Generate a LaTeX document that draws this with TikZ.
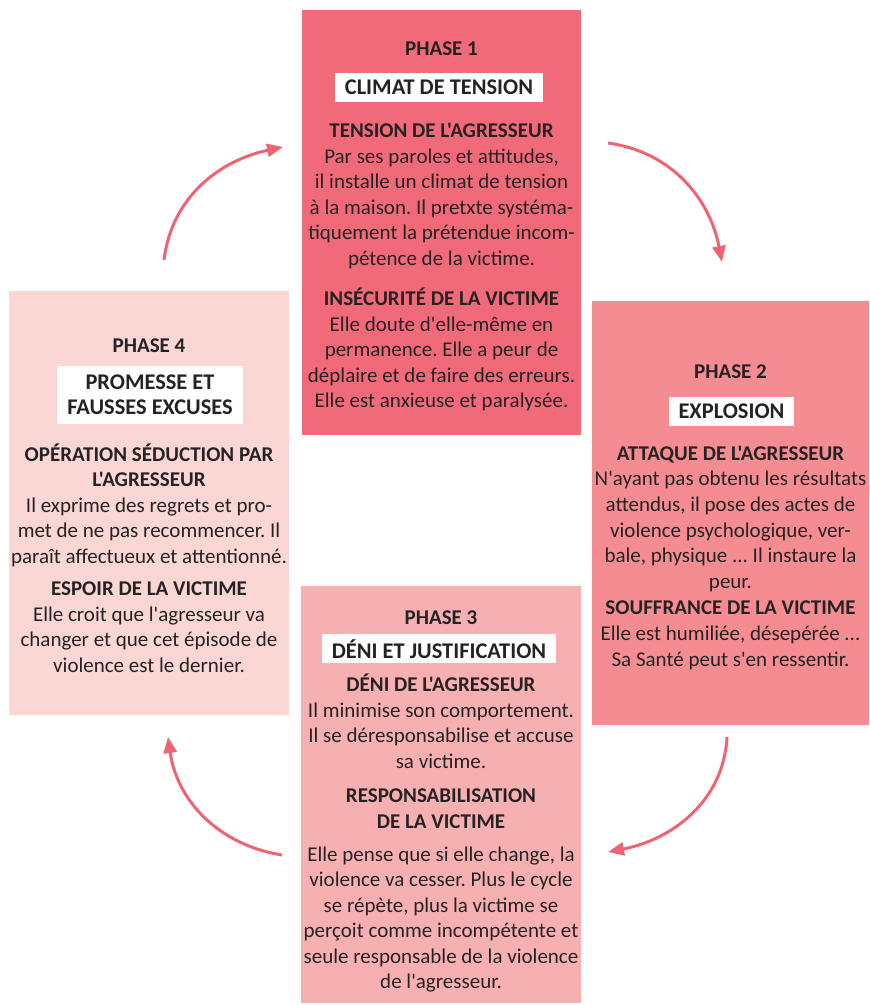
\documentclass[tikz,border=0pt]{standalone}
\usepackage{fontspec}
\setmainfont{Carlito}[Ligatures=TeXOff]
\usetikzlibrary{arrows.meta}
\frenchspacing

\definecolor{phaseone}{HTML}{F06A79}
\definecolor{phasetwo}{HTML}{F48C92}
\definecolor{phasethree}{HTML}{F7B0B1}
\definecolor{phasefour}{HTML}{FAD6D4}
\definecolor{arccolor}{HTML}{EE6473}
\definecolor{inktext}{HTML}{262223}

\newcommand{\bodyfont}{\fontsize{21}{25.5}\selectfont}
\newcommand{\widefont}{\fontsize{21}{25.7}\selectfont}
\newcommand{\labelfont}{\fontsize{22.4}{25}\selectfont\bfseries}

\begin{document}
\begin{tikzpicture}[x=1pt,y=1pt,
  phasebox/.style={inner sep=0pt},
  phasetitle/.style={font=\bodyfont\bfseries, text=inktext, anchor=north, inner sep=0pt, execute at begin node=\strut},
  phaselabel/.style={fill=white, font=\labelfont, text=inktext, inner xsep=10pt, inner ysep=0pt, minimum height=29pt, align=center},
  textblock/.style={font=\bodyfont, text=inktext, anchor=north, inner sep=0pt, align=center},
  cyclearc/.style={line width=3pt, draw=arccolor, -{Triangle[length=16pt,width=13pt]}}
]
\useasboundingbox (0,0) rectangle (870,1005);

% Phase 1
\node[phasebox, fill=phaseone, minimum width=279pt, minimum height=425pt] (p1) at (441.5,782.5) {};
\node[phasetitle] (p1title) at (441.5,967.5) {PHASE 1};
\node[phaselabel] (p1label) at (439,917.5) {CLIMAT DE TENSION};
\node[textblock] (p1agr) at (441.5,885.5) {\strut\textbf{TENSION DE L'AGRESSEUR}\\
  Par ses paroles et attitudes,\\ il installe un climat de tension\\
  à la maison. Il pretxte systéma-\\ tiquement la prétendue incom-\\
  pétence de la victime.};
\node[textblock] (p1vic) at (441.5,717.5) {\strut\textbf{INSÉCURITÉ DE LA VICTIME}\\
  Elle doute d'elle-même en\\ permanence. Elle a peur de\\
  déplaire et de faire des erreurs.\\ Elle est anxieuse et paralysée.};

% Phase 2
\node[phasebox, fill=phasetwo, minimum width=277pt, minimum height=424pt] (p2) at (730.5,492) {};
\node[phasetitle] (p2title) at (730.5,644.8) {PHASE 2};
\node[phaselabel] (p2label) at (731.5,593.5) {EXPLOSION};
\node[textblock, font=\widefont] (p2agr) at (730.5,563) {\strut\textbf{ATTAQUE DE L'AGRESSEUR}\\
  N'ayant pas obtenu les résultats\\ attendus, il pose des actes de\\
  violence psychologique, ver-\\ bale, physique ... Il instaure la\\ peur.};
\node[textblock, font=\widefont] (p2vic) at (730.5,408.5) {\strut\textbf{SOUFFRANCE DE LA VICTIME}\\
  Elle est humiliée, désepérée ...\\ Sa Santé peut s'en ressentir.};

% Phase 3
\node[phasebox, fill=phasethree, minimum width=280pt, minimum height=417pt] (p3) at (441,210.5) {};
\node[phasetitle] (p3title) at (441,398.5) {PHASE 3};
\node[phaselabel] (p3label) at (439,356) {DÉNI ET JUSTIFICATION};
\node[textblock] (p3agr) at (441,331.5) {\strut\textbf{DÉNI DE L'AGRESSEUR}\\
  Il minimise son comportement.\\ Il se déresponsabilise et accuse\\ sa victime.};
\node[textblock, font=\bodyfont\bfseries] (p3head) at (441,220.5) {\strut RESPONSABILISATION\\ DE LA VICTIME};
\node[textblock] (p3vic) at (441,162) {\strut Elle pense que si elle change, la\\
  violence va cesser. Plus le cycle\\ se répète, plus la victime se\\
  perçoit comme incompétente et\\ seule responsable de la violence\\ de l'agresseur.};

% Phase 4
\node[phasebox, fill=phasefour, minimum width=280pt, minimum height=424pt] (p4) at (149,502) {};
\node[phasetitle] (p4title) at (149,670.8) {PHASE 4};
\node[phaselabel, minimum height=58pt] (p4label) at (150,610) {PROMESSE ET\\ FAUSSES EXCUSES};
\node[textblock] (p4agr) at (149,562) {\strut\textbf{OPÉRATION SÉDUCTION PAR}\\ \textbf{L'AGRESSEUR}\\
  Il exprime des regrets et pro-\\ met de ne pas recommencer. Il\\
  paraît affectueux et attentionné.};
\node[textblock] (p4vic) at (149,427.5) {\strut\textbf{ESPOIR DE LA VICTIME}\\
  Elle croit que l'agresseur va\\ changer et que cet épisode de\\ violence est le dernier.};

% arcs of the cycle
\coordinate (arc41s) at (164,745);
\coordinate (arc41e) at (283,858);
\coordinate (arc12s) at (608,862);
\coordinate (arc12e) at (722,743);
\coordinate (arc23s) at (727,268);
\coordinate (arc23e) at (608,153);
\coordinate (arc34s) at (282,150);
\coordinate (arc34e) at (168,268);
\draw[cyclearc] (arc41s) to[out=83,in=192] (arc41e);
\draw[cyclearc] (arc12s) to[out=-8,in=101] (arc12e);
\draw[cyclearc] (arc23s) to[out=-93,in=11] (arc23e);
\draw[cyclearc] (arc34s) to[out=171,in=-82] (arc34e);
\end{tikzpicture}
\end{document}
